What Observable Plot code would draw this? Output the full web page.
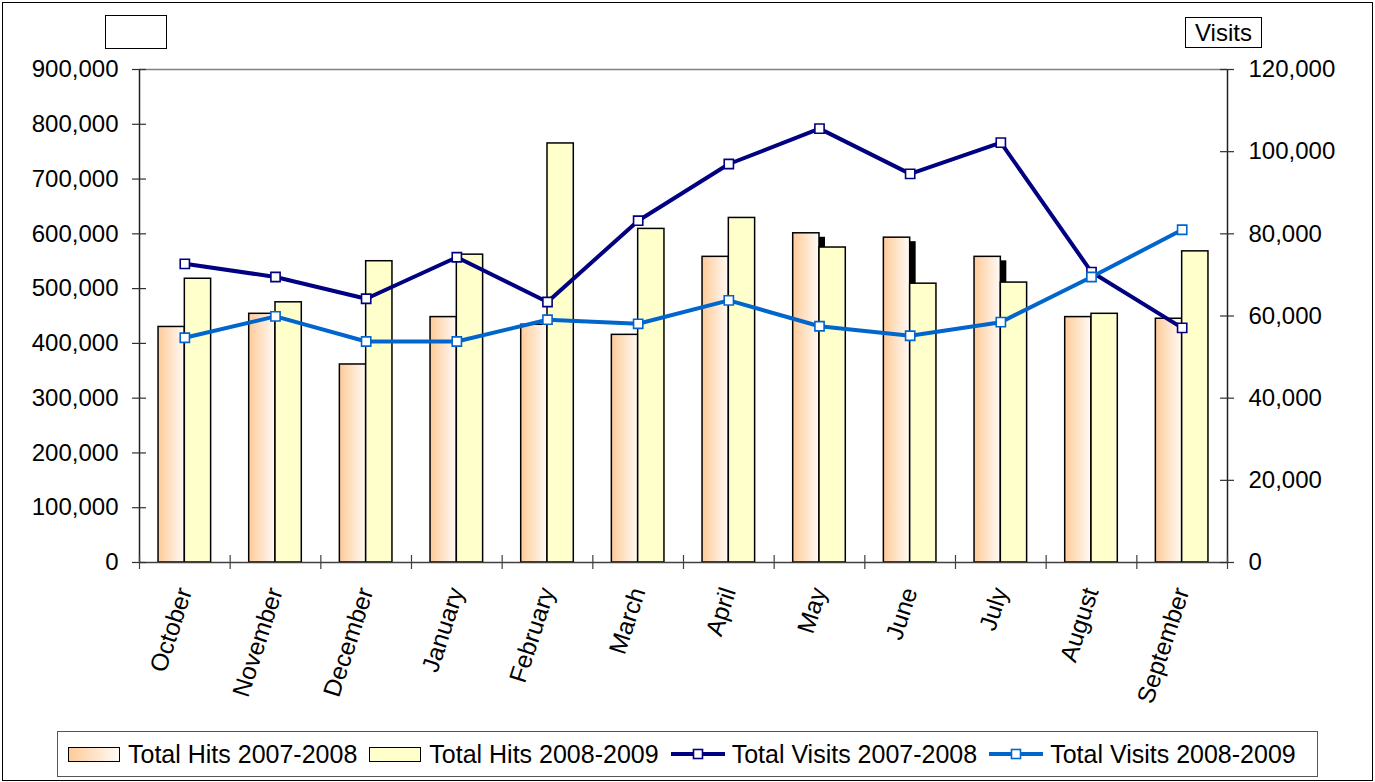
<!DOCTYPE html>
<html>
<head>
<meta charset="utf-8">
<script src="https://cdn.jsdelivr.net/npm/d3@7"></script>
<script src="https://cdn.jsdelivr.net/npm/@observablehq/plot@0.6"></script>
<style>
  html, body { margin: 0; padding: 0; background: #fff; }
  body { font-family: "Liberation Sans", Arial, sans-serif; color: #000; }
  #wrap { position: relative; width: 1375px; height: 782px; overflow: hidden; background: #fff; }
  #chart { position: absolute; left: 0; top: 0; }
  #frame { position: absolute; left: 2px; top: 2px; width: 1371px; height: 779px; border: 1.5px solid #000; box-sizing: border-box; pointer-events: none; }
  .axbox { position: absolute; border: 1.5px solid #000; box-sizing: border-box; font-size: 24px; line-height: 1; display: flex; align-items: center; justify-content: center; background: #fff; }
  #legend { position: absolute; left: 57px; top: 731px; width: 1261px; height: 46px; border: 1.5px solid #555; box-sizing: border-box; display: flex; align-items: center; padding-left: 10px; font-size: 25px; white-space: nowrap; }
  .item { display: flex; align-items: center; margin-right: 12px; }
  .sw { width: 52px; height: 15px; border: 1.5px solid #000; box-sizing: border-box; margin-right: 8px; }
  .ln { margin-right: 7px; }
</style>
</head>
<body>
<div id="wrap">
  <div id="chart"></div>
  <div class="axbox" style="left:105px;top:15px;width:62px;height:34px;"></div>
  <div class="axbox" style="left:1185px;top:17px;width:77px;height:31px;">Visits</div>
  <div id="legend"></div>
  <div id="frame"></div>
</div>
<script>
// ---- data ----
const months = ["October","November","December","January","February","March","April","May","June","July","August","September"];
const hits0708 = [430000, 454000, 361500, 448000, 434000, 415600, 558000, 601000, 593000, 558000, 448000, 445000];
const hits0809 = [518000, 475000, 550000, 562000, 765000, 609000, 629000, 575000, 509000, 511000, 454000, 568000];
const visits0708 = [72700, 69500, 64200, 74300, 63400, 83200, 97000, 105600, 94600, 102200, 70700, 57100];
const visits0809 = [54700, 59900, 53800, 53800, 59100, 58100, 63800, 57500, 55200, 58500, 69500, 81000];
const hitTicks = [0, 100000, 200000, 300000, 400000, 500000, 600000, 700000, 800000, 900000];
const visitTicks = [0, 20000, 40000, 60000, 80000, 100000, 120000];
const seriesNames = ["Total Hits 2007-2008", "Total Hits 2008-2009", "Total Visits 2007-2008", "Total Visits 2008-2009"];
const colors = { hits07: "#FECB98", hits08: "#FFFFCC", visits07: "#000080", visits08: "#0066CC" };

// ---- chart ----
const K = 900000 / 120000;   // visits -> hits scale factor (right axis)
const W = 0.29;              // bar width in category units
const data = months.map((m, i) => ({ i, month: m, h07: hits0708[i], h08: hits0809[i], v07: visits0708[i], v08: visits0809[i] }));
const fmt = d3.format(",");

const defs = () => {
  const s = d3.create("svg:defs");
  const g = s.append("linearGradient").attr("id", "hitsGrad").attr("x1", "0").attr("x2", "1").attr("y1", "0").attr("y2", "0");
  g.append("stop").attr("offset", "0%").attr("stop-color", colors.hits07);
  g.append("stop").attr("offset", "100%").attr("stop-color", "#FFFAF6");
  return s.node();
};

const tick = 0.077; // ~7px in category units

const plot = Plot.plot({
  width: 1375,
  height: 725,
  marginLeft: 139,
  marginRight: 148,
  marginTop: 69,
  marginBottom: 163,
  x: { type: "linear", domain: [0, 12] },
  y: { domain: [0, 900000] },
  style: { fontFamily: "Liberation Sans, Arial, sans-serif", fontSize: "24px", color: "#000", background: "transparent", overflow: "visible" },
  marks: [
    defs,
    // shadow
    Plot.rect(data, { x1: d => d.i + 0.5 - W, x2: d => d.i + 0.5, y1: 7300, y2: "h07", fill: "#000", dx: 6, dy: 4 }),
    Plot.rect(data, { x1: d => d.i + 0.5 - W, x2: d => d.i + 0.5, y1: 0, y2: "h07", fill: "url(#hitsGrad)", stroke: "#000", strokeWidth: 1.5 }),
    Plot.rect(data, { x1: d => d.i + 0.5, x2: d => d.i + 0.5 + W, y1: 0, y2: "h08", fill: colors.hits08, stroke: "#000", strokeWidth: 1.5 }),
    Plot.ruleY([900000], { stroke: "#808080", strokeWidth: 1.5 }),
    Plot.ruleY([0], { stroke: "#404040", strokeWidth: 1.5 }),
    Plot.ruleX([0, 12], { y1: 0, y2: 900000, stroke: "#202020", strokeWidth: 1.5 }),
    Plot.ruleY(hitTicks, { x1: -tick, x2: tick, stroke: "#303030", strokeWidth: 1.2 }),
    Plot.ruleY(visitTicks.map(v => v * K), { x1: 12 - tick, x2: 12 + tick, stroke: "#303030", strokeWidth: 1.2 }),
    Plot.ruleX(d3.range(13), { y1: -12800, y2: 12800, stroke: "#404040", strokeWidth: 1.2 }),
    Plot.axisY(hitTicks, { anchor: "left", tickSize: 0, tickPadding: 21, tickFormat: fmt, label: null, fontSize: 24 }),
    Plot.axisY(visitTicks.map(v => v * K), { anchor: "right", tickSize: 0, tickPadding: 21, tickFormat: d => fmt(Math.round(d / K)), label: null, fontSize: 24 }),
    Plot.axisX(d3.range(12).map(i => i + 0.5), { anchor: "bottom", tickSize: 0, tickPadding: 26, tickRotate: -72, tickFormat: d => months[Math.floor(d)], label: null, fontSize: 24.5 }),
    Plot.line(data, { x: d => d.i + 0.5, y: d => d.v07 * K, stroke: colors.visits07, strokeWidth: 4 }),
    Plot.dot(data, { x: d => d.i + 0.5, y: d => d.v07 * K, symbol: "square", r: 5.2, fill: "#fff", stroke: colors.visits07, strokeWidth: 1.6 }),
    Plot.line(data, { x: d => d.i + 0.5, y: d => d.v08 * K, stroke: colors.visits08, strokeWidth: 4 }),
    Plot.dot(data, { x: d => d.i + 0.5, y: d => d.v08 * K, symbol: "square", r: 5.2, fill: "#fff", stroke: colors.visits08, strokeWidth: 1.6 })
  ]
});
document.getElementById("chart").appendChild(plot);

// ---- legend ----
const legend = document.getElementById("legend");
function addSwatch(name, bg) {
  const it = document.createElement("div"); it.className = "item";
  const sw = document.createElement("div"); sw.className = "sw"; sw.style.background = bg;
  const t = document.createElement("span"); t.textContent = name;
  it.appendChild(sw); it.appendChild(t); legend.appendChild(it);
}
function addLine(name, color) {
  const it = document.createElement("div"); it.className = "item";
  const ns = "http://www.w3.org/2000/svg";
  const s = document.createElementNS(ns, "svg"); s.setAttribute("width", "54"); s.setAttribute("height", "18"); s.setAttribute("class", "ln");
  const l = document.createElementNS(ns, "line");
  l.setAttribute("x1", "0"); l.setAttribute("x2", "54"); l.setAttribute("y1", "9"); l.setAttribute("y2", "9");
  l.setAttribute("stroke", color); l.setAttribute("stroke-width", "4");
  const r = document.createElementNS(ns, "rect");
  r.setAttribute("x", "22.5"); r.setAttribute("y", "4.5"); r.setAttribute("width", "9"); r.setAttribute("height", "9");
  r.setAttribute("fill", "#fff"); r.setAttribute("stroke", color); r.setAttribute("stroke-width", "1.6");
  s.appendChild(l); s.appendChild(r);
  const t = document.createElement("span"); t.textContent = name;
  it.appendChild(s); it.appendChild(t); legend.appendChild(it);
}
addSwatch(seriesNames[0], `linear-gradient(to right, ${colors.hits07}, #FFFAF6)`);
addSwatch(seriesNames[1], colors.hits08);
addLine(seriesNames[2], colors.visits07);
addLine(seriesNames[3], colors.visits08);
</script>
</body>
</html>
